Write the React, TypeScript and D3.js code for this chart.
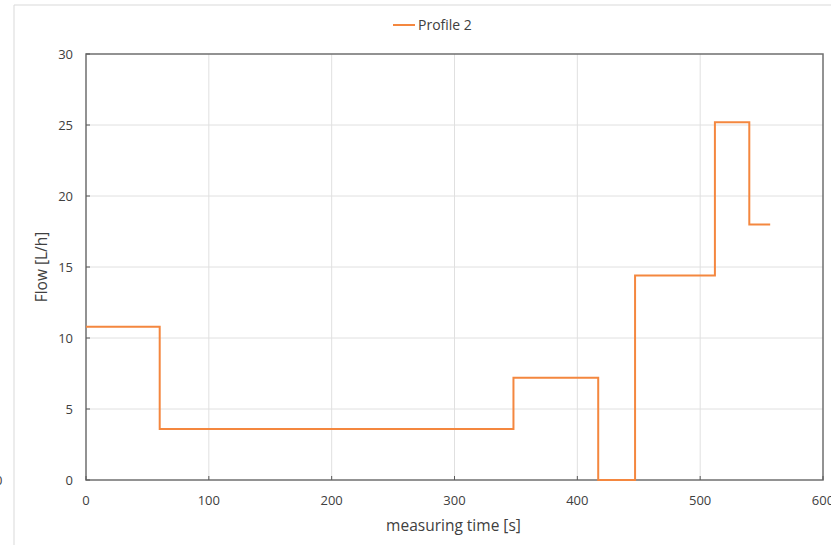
import React from 'react';
import * as d3 from 'd3';

// step profile: time [s] at each change, flow [L/h] from that time on
const times = [0, 60, 348, 417, 447, 512, 540, 557];
const flows = [10.8, 3.6, 7.2, 0, 14.4, 25.2, 18, 18];
const xTicks = [0, 100, 200, 300, 400, 500, 600];
const yTicks = [0, 5, 10, 15, 20, 25, 30];
const seriesName = 'Profile 2';

const W = 831;
const H = 545;
const margin = { top: 54, right: 8, bottom: 65, left: 86 };

const App: React.FC = () => {
    const x = d3.scaleLinear().domain([0, 600]).range([margin.left, W - margin.right]);
    const y = d3.scaleLinear().domain([0, 30]).range([H - margin.bottom, margin.top]);

    const pts = times.map((t, i) => [t, flows[i]] as [number, number]);
    const line = d3.line<[number, number]>()
        .x(d => x(d[0]))
        .y(d => y(d[1]))
        .curve(d3.curveStepAfter);

    const font = '"Open Sans", "Liberation Sans", sans-serif';
    const labelColor = '#404040';
    const orange = '#F4873F';

    return (
        <svg width={W} height={H} style={{ position: 'absolute', left: 0, top: 0, background: 'white' }}
            fontFamily={font}>
            {/* outer chart frame (partially visible) */}
            <line x1={14} x2={W} y1={5} y2={5} stroke="#d9d9d9" strokeWidth={1} />
            <line x1={14} x2={14} y1={5} y2={H} stroke="#d9d9d9" strokeWidth={1} />
            <text x={-5} y={485} fontSize={13} fill={labelColor}>0</text>

            {/* gridlines */}
            {xTicks.slice(1, -1).map(t => (
                <line key={'gx' + t} x1={x(t)} x2={x(t)} y1={y(30)} y2={y(0)} stroke="#e0e0e0" strokeWidth={1} />
            ))}
            {yTicks.slice(1, -1).map(t => (
                <line key={'gy' + t} x1={x(0)} x2={x(600)} y1={y(t)} y2={y(t)} stroke="#e0e0e0" strokeWidth={1} />
            ))}

            {/* plot border */}
            <rect x={x(0)} y={y(30)} width={x(600) - x(0)} height={y(0) - y(30)}
                fill="none" stroke="#6f6f6f" strokeWidth={1.5} />

            {/* tick marks */}
            {xTicks.map(t => (
                <line key={'tx' + t} x1={x(t)} x2={x(t)} y1={y(0)} y2={y(0) - 4} stroke="#595959" strokeWidth={1} />
            ))}
            {yTicks.map(t => (
                <line key={'ty' + t} x1={x(0)} x2={x(0) + 4} y1={y(t)} y2={y(t)} stroke="#595959" strokeWidth={1} />
            ))}

            {/* series */}
            <path d={line(pts) || ''} fill="none" stroke={orange} strokeWidth={2} />

            {/* tick labels */}
            {xTicks.map(t => (
                <text key={'lx' + t} x={x(t)} y={y(0) + 25} fontSize={13} fill={labelColor} textAnchor="middle">{t}</text>
            ))}
            {yTicks.map(t => (
                <text key={'ly' + t} x={x(0) - 13} y={y(t) + 4.5} fontSize={13} fill={labelColor} textAnchor="end">{t}</text>
            ))}

            {/* axis titles */}
            <text x={(x(0) + x(600)) / 2 - 1} y={531} fontSize={15.5} fill={labelColor} textAnchor="middle">measuring time [s]</text>
            <text transform={`translate(47, ${(y(0) + y(30)) / 2}) rotate(-90)`} fontSize={15.5} fill={labelColor}
                textAnchor="middle">Flow [L/h]</text>

            {/* legend */}
            <line x1={393} x2={415} y1={25} y2={25} stroke={orange} strokeWidth={2} />
            <text x={418} y={30} fontSize={14} fill={labelColor}>{seriesName}</text>
        </svg>
    );
};

export default App;
